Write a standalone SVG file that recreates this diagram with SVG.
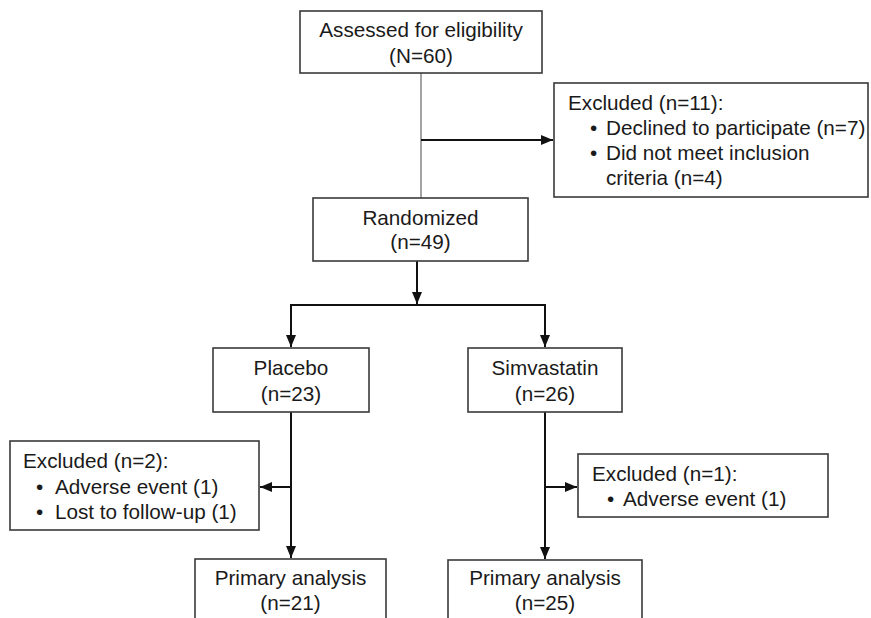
<svg xmlns="http://www.w3.org/2000/svg" width="871" height="618" viewBox="0 0 871 618">
<defs>
<style>
.box{fill:#fff;stroke:#3a3a3a;stroke-width:1.6}
.t{font-family:"Liberation Sans",Arial,sans-serif;font-size:20.7px;fill:#1a1a1a}
.c{text-anchor:middle}
.ln{stroke:#111;stroke-width:2;fill:none}
.thin{stroke:#666;stroke-width:1.2;fill:none}
</style>
<marker id="ah" markerUnits="userSpaceOnUse" markerWidth="12" markerHeight="12" viewBox="0 0 12 12" refX="12" refY="6" orient="auto">
<path d="M0,1 L12,6 L0,11 Z" fill="#111"/>
</marker>
</defs>
<rect width="871" height="618" fill="#fff"/>
<g id="connectors">
<line class="thin" x1="421" y1="73" x2="421" y2="198"/>
<line class="ln" x1="421" y1="140" x2="553" y2="140" marker-end="url(#ah)"/>
<line class="ln" x1="417" y1="261" x2="417" y2="304" marker-end="url(#ah)"/>
<polyline class="ln" points="291,347 291,305 545,305 545,347" />
<line class="ln" x1="291" y1="305" x2="291" y2="347" marker-end="url(#ah)"/>
<line class="ln" x1="545" y1="305" x2="545" y2="347" marker-end="url(#ah)"/>
<line class="ln" x1="291" y1="412" x2="291" y2="558" marker-end="url(#ah)"/>
<line class="ln" x1="291" y1="487" x2="260" y2="487" marker-end="url(#ah)"/>
<line class="ln" x1="545" y1="412" x2="545" y2="559" marker-end="url(#ah)"/>
<line class="ln" x1="545" y1="487" x2="577" y2="487" marker-end="url(#ah)"/>
</g>
<g id="assessed">
<rect class="box" x="300" y="11" width="242" height="62"/>
<text class="t c" x="421" y="37">Assessed for eligibility</text>
<text class="t c" x="421" y="63">(N=60)</text>
</g>
<g id="excluded-top">
<rect class="box" x="554" y="83" width="314" height="114"/>
<text class="t" x="568" y="110">Excluded (n=11):</text>
<text class="t" x="590" y="135">•</text>
<text class="t" x="606" y="135">Declined to participate (n=7)</text>
<text class="t" x="590" y="160">•</text>
<text class="t" x="606" y="160">Did not meet inclusion</text>
<text class="t" x="606" y="185">criteria (n=4)</text>
</g>
<g id="randomized">
<rect class="box" x="313" y="198" width="215" height="63"/>
<text class="t c" x="420.5" y="225">Randomized</text>
<text class="t c" x="420.5" y="249">(n=49)</text>
</g>
<g id="placebo">
<rect class="box" x="213" y="348" width="156" height="64"/>
<text class="t c" x="291" y="375">Placebo</text>
<text class="t c" x="291" y="401">(n=23)</text>
</g>
<g id="simvastatin">
<rect class="box" x="468" y="348" width="154" height="64"/>
<text class="t c" x="545" y="375">Simvastatin</text>
<text class="t c" x="545" y="401">(n=26)</text>
</g>
<g id="excluded-placebo">
<rect class="box" x="10" y="441" width="249" height="89"/>
<text class="t" x="23" y="468">Excluded (n=2):</text>
<text class="t" x="36" y="494">•</text>
<text class="t" x="55" y="494">Adverse event (1)</text>
<text class="t" x="36" y="519">•</text>
<text class="t" x="55" y="519">Lost to follow-up (1)</text>
</g>
<g id="excluded-simva">
<rect class="box" x="578" y="454" width="250" height="63"/>
<text class="t" x="592" y="481">Excluded (n=1):</text>
<text class="t" x="607" y="506">•</text>
<text class="t" x="623" y="506">Adverse event (1)</text>
</g>
<g id="primary-placebo">
<rect class="box" x="195" y="559" width="191" height="70"/>
<text class="t c" x="290.5" y="585">Primary analysis</text>
<text class="t c" x="290.5" y="610">(n=21)</text>
</g>
<g id="primary-simva">
<rect class="box" x="448" y="560" width="194" height="70"/>
<text class="t c" x="545" y="585">Primary analysis</text>
<text class="t c" x="545" y="610">(n=25)</text>
</g>
</svg>
